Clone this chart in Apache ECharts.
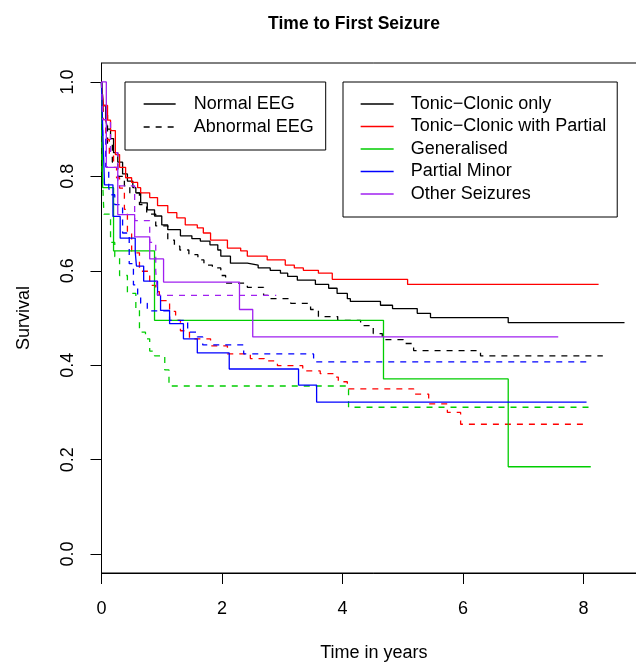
<!DOCTYPE html>
<html>
<head>
<meta charset="utf-8">
<script src="https://cdn.jsdelivr.net/npm/echarts@6/dist/echarts.min.js"></script>
<style>html,body{margin:0;padding:0;background:#fff;overflow:hidden;width:636px;height:668px}#chart{width:720px;height:668px}</style>
</head>
<body>
<div id="chart"></div>
<script>
// ---- data ----
const seizureTypes = ['Tonic\u2212Clonic only', 'Tonic\u2212Clonic with Partial', 'Generalised', 'Partial Minor', 'Other Seizures'];
const eegGroups = ['Normal EEG', 'Abnormal EEG'];
const xTicks = [0, 2, 4, 6, 8];
const xTickLabels = ['0', '2', '4', '6', '8'];
const yTicks = [0, 0.2, 0.4, 0.6, 0.8, 1.0];
const yTickLabels = ['0.0', '0.2', '0.4', '0.6', '0.8', '1.0'];

// Tonic-Clonic only
const tcNormalTime = [0, 0.03, 0.07, 0.1, 0.15, 0.2, 0.27, 0.35, 0.43, 0.52, 0.57, 0.65, 0.76, 0.88, 1.0, 1.1, 1.31, 1.5, 1.64, 1.8, 1.93, 1.98, 2.14, 2.42, 2.6, 2.8, 2.97, 3.09, 3.25, 3.55, 3.77, 3.91, 4.08, 4.13, 4.63, 4.83, 5.24, 5.46, 6.75, 8.68];
const tcNormalSurv = [1.0, 0.95, 0.92, 0.9, 0.88, 0.85, 0.83, 0.805, 0.79, 0.776, 0.765, 0.744, 0.729, 0.716, 0.697, 0.687, 0.674, 0.668, 0.663, 0.655, 0.644, 0.631, 0.616, 0.612, 0.606, 0.601, 0.595, 0.588, 0.58, 0.571, 0.563, 0.552, 0.541, 0.535, 0.527, 0.52, 0.51, 0.501, 0.49, 0.49];
const tcAbnormalTime = [0, 0.03, 0.1, 0.18, 0.27, 0.38, 0.47, 0.63, 0.75, 0.9, 1.1, 1.21, 1.3, 1.45, 1.6, 1.7, 1.84, 1.98, 2.06, 2.42, 2.69, 2.8, 3.14, 3.47, 3.6, 3.92, 4.3, 4.51, 4.66, 5.01, 5.18, 6.29, 8.32];
const tcAbnormalSurv = [1.0, 0.93, 0.87, 0.83, 0.8, 0.78, 0.765, 0.74, 0.72, 0.695, 0.665, 0.652, 0.644, 0.634, 0.623, 0.612, 0.606, 0.59, 0.574, 0.565, 0.548, 0.541, 0.531, 0.518, 0.503, 0.495, 0.484, 0.467, 0.454, 0.446, 0.431, 0.42, 0.42];
// Tonic-Clonic with Partial
const tcpNormalTime = [0, 0.03, 0.1, 0.15, 0.23, 0.3, 0.4, 0.5, 0.6, 0.65, 0.8, 0.93, 1.1, 1.25, 1.39, 1.59, 1.69, 1.81, 2.09, 2.31, 2.42, 2.75, 3.05, 3.2, 3.35, 3.6, 3.83, 5.08, 8.25];
const tcpNormalSurv = [1.0, 0.95, 0.919, 0.897, 0.846, 0.819, 0.797, 0.787, 0.776, 0.765, 0.755, 0.738, 0.723, 0.712, 0.697, 0.691, 0.68, 0.665, 0.648, 0.642, 0.631, 0.623, 0.612, 0.606, 0.601, 0.595, 0.582, 0.571, 0.571];
const tcpAbnormalTime = [0, 0.03, 0.07, 0.13, 0.2, 0.25, 0.3, 0.38, 0.43, 0.5, 0.63, 0.8, 0.9, 0.96, 1.13, 1.23, 1.31, 1.46, 1.81, 2.09, 2.47, 2.7, 2.92, 3.34, 3.63, 3.85, 3.93, 4.08, 5.18, 5.43, 5.74, 5.96, 8.08];
const tcpAbnormalSurv = [1.0, 0.92, 0.878, 0.846, 0.819, 0.797, 0.775, 0.73, 0.68, 0.638, 0.599, 0.569, 0.556, 0.537, 0.514, 0.495, 0.473, 0.456, 0.441, 0.424, 0.414, 0.409, 0.399, 0.388, 0.382, 0.375, 0.365, 0.35, 0.339, 0.318, 0.30, 0.275, 0.275];
// Generalised
const genNormalTime = [0, 0.02, 0.2, 0.88, 4.68, 6.75, 8.12];
const genNormalSurv = [1.0, 0.776, 0.642, 0.495, 0.371, 0.185, 0.185];
const genAbnormalTime = [0, 0.01, 0.04, 0.15, 0.22, 0.3, 0.43, 0.57, 0.63, 0.73, 0.8, 0.88, 1.05, 1.12, 4.1, 8.1];
const genAbnormalSurv = [1.0, 0.82, 0.72, 0.66, 0.63, 0.59, 0.552, 0.52, 0.47, 0.456, 0.43, 0.42, 0.39, 0.356, 0.311, 0.311];
// Partial Minor
const pmNormalTime = [0, 0.02, 0.05, 0.19, 0.31, 0.56, 0.58, 0.7, 0.93, 0.98, 1.13, 1.36, 1.59, 2.12, 3.27, 3.57, 8.05];
const pmNormalSurv = [1.0, 0.9, 0.782, 0.715, 0.669, 0.64, 0.61, 0.578, 0.548, 0.516, 0.488, 0.456, 0.426, 0.392, 0.358, 0.322, 0.322];
const pmAbnormalTime = [0, 0.02, 0.07, 0.12, 0.15, 0.22, 0.35, 0.46, 0.53, 0.6, 0.65, 0.76, 1.13, 1.43, 1.59, 1.68, 2.36, 3.52, 8.06];
const pmAbnormalSurv = [1.0, 0.88, 0.82, 0.776, 0.761, 0.74, 0.68, 0.615, 0.57, 0.545, 0.531, 0.515, 0.495, 0.47, 0.46, 0.443, 0.424, 0.407, 0.407];
// Other Seizures
const osNormalTime = [0, 0.08, 0.27, 0.55, 0.8, 1.03, 2.29, 2.51, 7.58];
const osNormalSurv = [1.0, 0.819, 0.719, 0.672, 0.625, 0.576, 0.518, 0.46, 0.46];
const osAbnormalTime = [0, 0.02, 0.15, 0.27, 0.55, 0.8, 0.9, 0.93, 2.9];
const osAbnormalSurv = [1.0, 0.92, 0.85, 0.78, 0.706, 0.66, 0.60, 0.548, 0.548];

// ---- styling ----
const FONT = "'Liberation Sans', Arial, Helvetica, sans-serif";
const typeColors = ['#000000', '#FF0000', '#00CD00', '#0000FF', '#A020F0'];
const DASH = [6, 6];
const LW = 1.3;

const curves = [
  [tcNormalTime, tcNormalSurv, tcAbnormalTime, tcAbnormalSurv],
  [tcpNormalTime, tcpNormalSurv, tcpAbnormalTime, tcpAbnormalSurv],
  [genNormalTime, genNormalSurv, genAbnormalTime, genAbnormalSurv],
  [pmNormalTime, pmNormalSurv, pmAbnormalTime, pmAbnormalSurv],
  [osNormalTime, osNormalSurv, osAbnormalTime, osAbnormalSurv]
];

function zip(t, s) {
  const n = Math.min(t.length, s.length);
  const out = [];
  for (let i = 0; i < n; i++) out.push([t[i], s[i]]);
  return out;
}

const series = [];
seizureTypes.forEach((name, i) => {
  const c = curves[i];
  series.push({
    name: name, type: 'line', step: 'end', data: zip(c[0], c[1]),
    symbol: 'circle', showSymbol: false, silent: true,
    lineStyle: { color: typeColors[i], width: LW, type: 'solid' },
    itemStyle: { color: typeColors[i] }
  });
  series.push({
    name: name + ' (' + eegGroups[1] + ')', type: 'line', step: 'end', data: zip(c[2], c[3]),
    symbol: 'circle', showSymbol: false, silent: true,
    lineStyle: { color: typeColors[i], width: LW, type: DASH },
    itemStyle: { color: typeColors[i] }
  });
});
// legend-only entries for the EEG line types
series.push({ name: eegGroups[0], type: 'line', data: [], symbol: 'circle', showSymbol: false,
  lineStyle: { color: '#000', width: LW, type: 'solid' }, itemStyle: { color: '#000' } });
series.push({ name: eegGroups[1], type: 'line', data: [], symbol: 'circle', showSymbol: false,
  lineStyle: { color: '#000', width: LW, type: DASH }, itemStyle: { color: '#000' } });

const legendCommon = {
  orient: 'vertical', top: 82, itemHeight: 14, selectedMode: false,
  borderColor: '#000', borderWidth: 1, backgroundColor: '#fff',
  itemStyle: { opacity: 0 },
  lineStyle: { width: LW }
};

const chart = echarts.init(document.getElementById('chart'), null, { renderer: 'canvas', width: 720, height: 668 });
chart.setOption({
  animation: false,
  backgroundColor: '#fff',
  title: {
    text: 'Time to First Seizure', left: 349, top: 10, textAlign: 'center',
    textStyle: { fontFamily: FONT, fontSize: 17.5, fontWeight: 'bold', color: '#000' }
  },
  grid: {
    left: 101.5, top: 63, width: 544.7, height: 510,
    show: true, borderColor: '#000', borderWidth: 1, backgroundColor: 'transparent'
  },
  xAxis: {
    type: 'value', min: 0, max: 9.04,
    axisLine: { show: true, onZero: false, lineStyle: { color: '#000', width: 1 } },
    axisTick: { show: true, customValues: xTicks, length: 11, lineStyle: { color: '#000', width: 1 } },
    axisLabel: {
      customValues: xTicks, fontSize: 18, fontFamily: FONT, color: '#000', margin: 27,
      formatter: v => xTickLabels[xTicks.indexOf(v)] ?? String(v)
    },
    splitLine: { show: false },
    name: 'Time in years', nameLocation: 'middle', nameGap: 71,
    nameTextStyle: { fontSize: 18, fontFamily: FONT, color: '#000' }
  },
  yAxis: {
    type: 'value', min: -0.04, max: 1.04,
    axisLine: { show: true, onZero: false, lineStyle: { color: '#000', width: 1 } },
    axisTick: { show: true, customValues: yTicks, length: 11, lineStyle: { color: '#000', width: 1 } },
    axisLabel: {
      customValues: yTicks, rotate: 90, fontSize: 18, fontFamily: FONT, color: '#000', margin: 24,
      formatter: v => { const k = yTicks.findIndex(t => Math.abs(t - v) < 1e-9); return k >= 0 ? yTickLabels[k] : String(v); }
    },
    splitLine: { show: false },
    name: 'Survival', nameLocation: 'middle', nameGap: 68,
    nameTextStyle: { fontSize: 18, fontFamily: FONT, color: '#000' }
  },
  legend: [
    Object.assign({}, legendCommon, {
      left: 125, padding: [12, 12, 13, 18], itemGap: 3, itemWidth: 32,
      textStyle: { fontSize: 18, fontFamily: FONT, color: '#000', lineHeight: 20, padding: [0, 0, 0, 13] },
      data: eegGroups.slice()
    }),
    Object.assign({}, legendCommon, {
      left: 343, padding: [12, 11, 13, 17], itemGap: 2.5, itemWidth: 33,
      textStyle: { fontSize: 18, fontFamily: FONT, color: '#000', lineHeight: 20, padding: [0, 0, 0, 12] },
      data: seizureTypes.slice()
    })
  ],
  series: series
});
</script>
</body>
</html>
